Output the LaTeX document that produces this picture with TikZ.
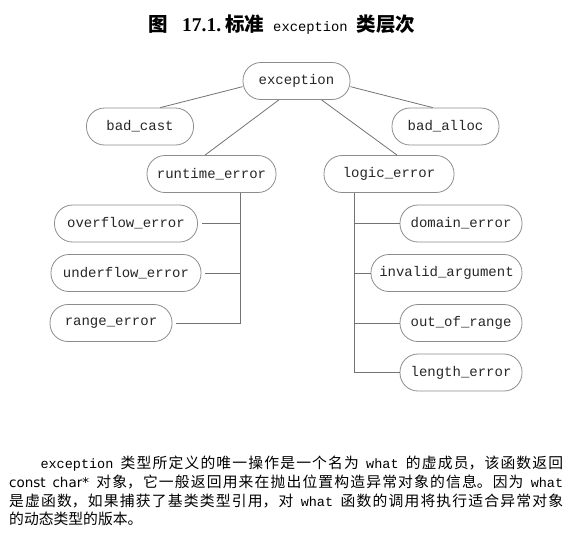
\documentclass[tikz,border=0pt]{standalone}
\usepackage{fontspec}
\usepackage{tikz}
\setmainfont{Liberation Serif}
\setsansfont{DejaVu Sans}
\setmonofont{Liberation Mono}
\newfontfamily\cjk{Noto Sans CJK SC}
\XeTeXlinebreaklocale "zh"
\XeTeXlinebreakskip = 0pt plus 1pt
\newcommand{\mono}[1]{{\ttfamily\fontsize{13.5}{18.7}\selectfont\hspace{5pt plus 2pt}#1\hspace{5pt plus 2pt}}}
\tikzset{
	cls/.style={draw=black!45, line width=0.8pt, rounded corners=18pt, minimum height=37pt, inner xsep=5pt, inner ysep=0pt, text=black!85, font=\ttfamily\fontsize{14}{16}\selectfont},
	link/.style={draw=black!55, line width=0.8pt}
}

\begin{document}
\begin{tikzpicture}[x=1pt,y=-1pt]
	\useasboundingbox (0,0) rectangle (577,539);
		%Title
			\node (title) at (282,25) {\cjk\bfseries\fontsize{19.5}{23}\selectfont 图\hspace{14pt}{\rmfamily\fontsize{19.5}{23}\selectfont 17.1.}\hspace{4pt}标准\hspace{9pt}{\mdseries\ttfamily\fontsize{13.8}{16}\selectfont exception}\hspace{9pt}类层次};
		%Classes
			\node[cls,minimum width=107pt] (exc) at (296.5,81) {exception};
			\node[cls,minimum width=107pt] (badcast) at (140,126.5) {bad\_cast};
			\node[cls,minimum width=107pt] (badalloc) at (445.5,126.5) {bad\_alloc};
			\node[cls,minimum width=129pt] (rterr) at (211.5,174) {runtime\_error};
			\node[cls,minimum width=130pt] (logerr) at (389,174) {logic\_error};
			\node[cls,minimum width=143pt] (ovf) at (126,223.5) {overflow\_error};
			\node[cls,minimum width=150pt] (udf) at (126,273) {underflow\_error};
			\node[cls,minimum width=122pt] (rng) at (111,323) {range\_error};
			\node[cls,minimum width=122pt] (dom) at (461,223.5) {domain\_error};
			\node[cls,minimum width=151pt] (inv) at (446.5,273) {invalid\_argument};
			\node[cls,minimum width=122pt] (oor) at (461,323) {out\_of\_range};
			\node[cls,minimum width=122pt] (len) at (461,372.5) {length\_error};
		%Links from exception
			\draw[link] (exc.186) -- (badcast.43);
			\draw[link] (exc.354) -- (badalloc.124);
			\draw[link] (exc.227) -- (rterr.109);
			\draw[link] (exc.323) -- (logerr.67);
		%Runtime branch
			\coordinate (rtbus) at (240,323);
			\draw[link,shorten >=4pt] (rterr.south -| rtbus) -- (rtbus) -- (rng.east);
			\foreach \n in {ovf,udf}
			{
				\draw[link,shorten <=4pt] (\n.east) -- (\n.east -| rtbus);
			}
		%Logic branch
			\coordinate (lgbus) at (354,372.5);
			\draw[link] (logerr.south -| lgbus) -- (lgbus) -- (len.west);
			\foreach \n in {dom,inv,oor}
			{
				\draw[link] (\n.west -| lgbus) -- (\n.west);
			}
		%Text
			\node[anchor=north west,inner sep=0pt,text width=554pt,align=justify,font=\cjk\fontsize{14.8}{18.7}\selectfont] (para) at (9,456) {\hspace*{24pt}\mono{exception}类型所定义的唯一操作是一个名为\mono{what}的虚成员，该函数返回\linebreak {\sffamily\fontsize{13.5}{18.7}\selectfont const char*}\hspace{5pt plus 2pt}对象，它一般返回用来在抛出位置构造异常对象的信息。因为\mono{what}\linebreak 是虚函数，如果捕获了基类类型引用，对\mono{what}函数的调用将执行适合异常对象\linebreak 的动态类型的版本。};
\end{tikzpicture}
\end{document}
